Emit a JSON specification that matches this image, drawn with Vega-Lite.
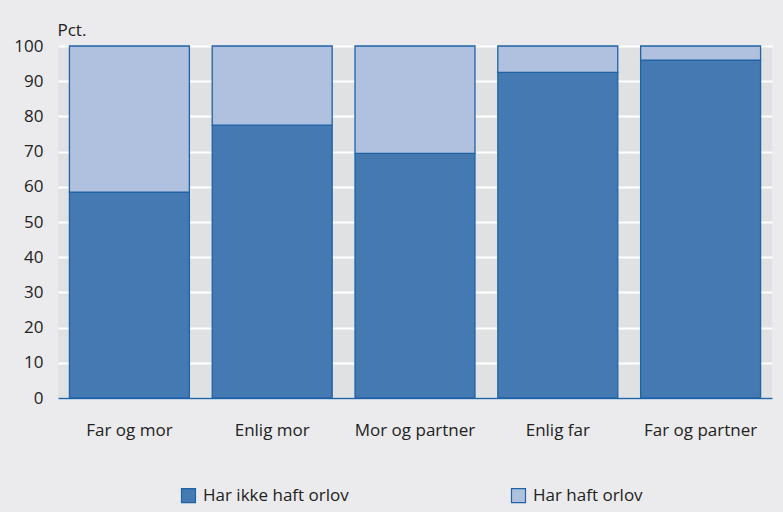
{
  "$schema": "https://vega.github.io/schema/vega-lite/v6.json",
  "autosize": {"type": "none"},
  "width": 714,
  "height": 352,
  "padding": {"left": 58, "top": 46, "right": 11, "bottom": 114},
  "background": "#ebebed",
  "config": {
    "view": {"fill": "#e0e1e3", "stroke": null},
    "font": "Open Sans",
    "axis": {"labelFont": "Open Sans", "titleFont": "Open Sans"}
  },
  "data": {
    "values": [
      {"gruppe": "Far og mor", "status": "Har ikke haft orlov", "pct": 58.5},
      {"gruppe": "Far og mor", "status": "Har haft orlov", "pct": 41.5},
      {"gruppe": "Enlig mor", "status": "Har ikke haft orlov", "pct": 77.5},
      {"gruppe": "Enlig mor", "status": "Har haft orlov", "pct": 22.5},
      {"gruppe": "Mor og partner", "status": "Har ikke haft orlov", "pct": 69.5},
      {"gruppe": "Mor og partner", "status": "Har haft orlov", "pct": 30.5},
      {"gruppe": "Enlig far", "status": "Har ikke haft orlov", "pct": 92.5},
      {"gruppe": "Enlig far", "status": "Har haft orlov", "pct": 7.5},
      {"gruppe": "Far og partner", "status": "Har ikke haft orlov", "pct": 96},
      {"gruppe": "Far og partner", "status": "Har haft orlov", "pct": 4}
    ]
  },
  "mark": {"type": "bar", "stroke": "#1f63a5", "strokeWidth": 1.3},
  "encoding": {
    "x": {
      "field": "gruppe",
      "type": "nominal",
      "sort": null,
      "scale": {"paddingInner": 0.16, "paddingOuter": 0.08},
      "axis": {
        "title": null,
        "labelAngle": 0,
        "labelFontSize": 17,
        "labelColor": "#222222",
        "labelPadding": 24,
        "ticks": false,
        "domain": true,
        "domainColor": "#1f63a5",
        "domainWidth": 1.5,
        "grid": false
      }
    },
    "y": {
      "field": "pct",
      "type": "quantitative",
      "stack": "zero",
      "scale": {"domain": [0, 100], "nice": false},
      "axis": {
        "title": "Pct.",
        "titleAngle": 0,
        "titleAlign": "left",
        "titleBaseline": "alphabetic",
        "titleX": -1,
        "titleY": -11,
        "titleFontSize": 17,
        "titleFontWeight": "normal",
        "titleColor": "#222222",
        "values": [0, 10, 20, 30, 40, 50, 60, 70, 80, 90, 100],
        "labelFontSize": 17,
        "labelColor": "#222222",
        "labelPadding": 15,
        "ticks": false,
        "domain": false,
        "grid": true,
        "gridColor": "#ffffff",
        "gridWidth": 2,
        "gridOpacity": 1
      }
    },
    "color": {
      "field": "status",
      "type": "nominal",
      "scale": {
        "domain": ["Har ikke haft orlov", "Har haft orlov"],
        "range": ["#4479b1", "#b0c1df"]
      },
      "legend": {
        "title": null,
        "orient": "none",
        "direction": "horizontal",
        "legendX": 122,
        "legendY": 441,
        "symbolType": "square",
        "symbolSize": 196,
        "symbolStrokeColor": "#1f63a5",
        "symbolStrokeWidth": 1.2,
        "labelFontSize": 17,
        "labelColor": "#222222",
        "labelOffset": 6,
        "columnPadding": 160
      }
    },
    "order": {"field": "status", "sort": "descending"}
  }
}
